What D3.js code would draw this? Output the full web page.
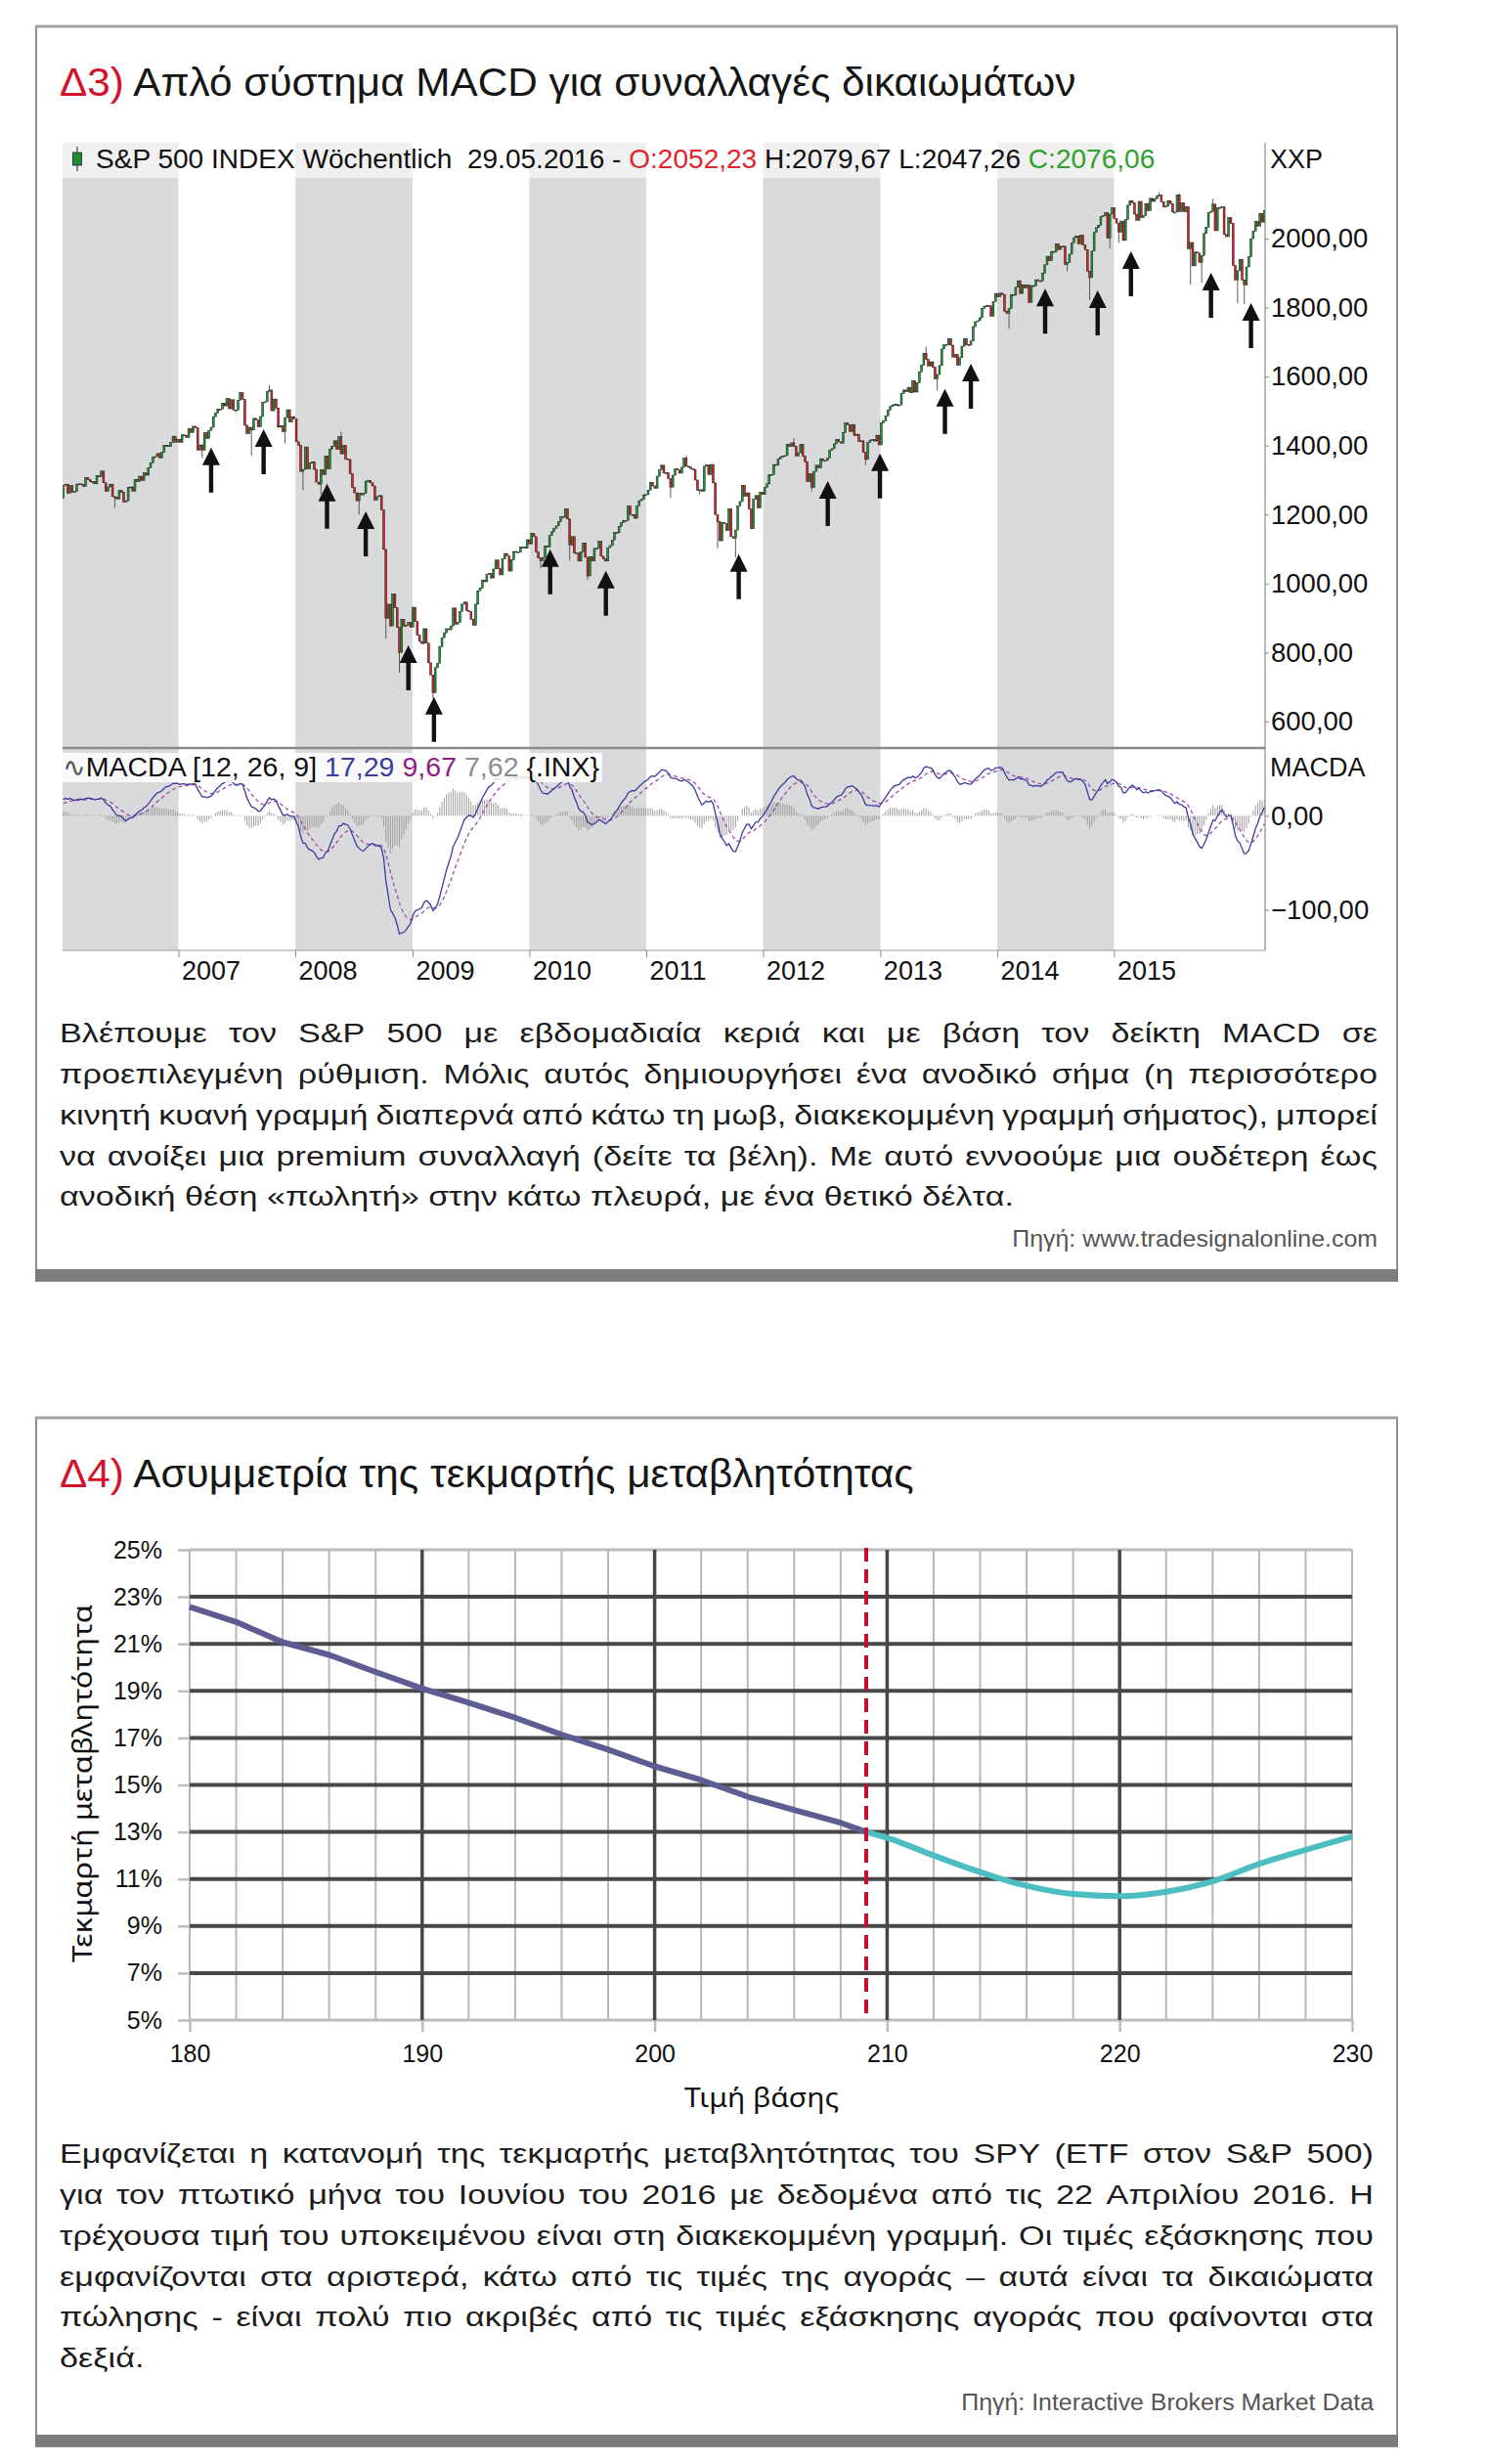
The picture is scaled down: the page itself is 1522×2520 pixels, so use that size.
<!DOCTYPE html>
<html><head><meta charset="utf-8">
<script src="https://cdn.jsdelivr.net/npm/d3@7"></script>
<style>
body{margin:0;background:#fff;}
svg{display:block;}
text{font-family:"Liberation Sans",Arial,sans-serif;}
</style></head><body>
<svg id="c" width="1522" height="2520"></svg>
<script>
// ---------------- DATA: Δ3 S&P 500 weekly closes (Friday), read/estimated ----------------
const close2005 = [1186,1184,1168,1171,1203,1205,1201,1211,1222,1200,1190,1172,1172,1182,1142,1152,1157,1172,1155,1190,1199,1197,1201,1216,1191,1211,1211,1227,1229,1234,1226,1230,1219,1205,1218,1241,1237,1215,1229,1196,1187,1179,1199,1220,1235,1248,1268,1265,1259,1267,1268,1248];
const close2006 = [1285,1288,1262,1284,1264,1267,1288,1289,1287,1282,1307,1302,1295,1295,1289,1312,1310,1326,1292,1267,1280,1288,1252,1251,1245,1270,1265,1236,1240,1279,1280,1267,1302,1295,1311,1299,1321,1314,1336,1350,1366,1368,1377,1364,1380,1401,1400,1397,1409,1427,1410,1418];
const close2007 = [1409,1431,1430,1423,1449,1438,1456,1451,1387,1402,1386,1437,1421,1444,1453,1484,1495,1506,1505,1523,1515,1536,1507,1533,1503,1503,1531,1553,1534,1459,1434,1453,1445,1479,1474,1454,1484,1525,1527,1557,1561,1501,1535,1509,1453,1458,1440,1481,1504,1468,1484,1478];
const close2008 = [1411,1401,1325,1331,1396,1332,1349,1353,1331,1294,1288,1330,1316,1370,1332,1390,1398,1414,1389,1426,1376,1400,1361,1360,1318,1278,1263,1240,1261,1257,1261,1297,1298,1292,1283,1242,1252,1255,1213,1099,899,940,877,969,930,873,800,896,876,879,887,873];
const close2009 = [931,890,850,832,826,869,827,770,735,683,756,768,816,843,857,869,866,877,929,882,887,919,940,946,921,918,896,879,940,979,987,1010,1005,1026,1029,1016,1042,1068,1044,1025,1071,1087,1080,1036,1069,1093,1091,1091,1106,1106,1102,1127];
const close2010 = [1115,1145,1136,1092,1074,1066,1075,1109,1105,1139,1150,1160,1167,1179,1194,1192,1217,1187,1111,1136,1088,1089,1065,1092,1117,1076,1022,1078,1065,1102,1102,1122,1079,1071,1065,1104,1110,1126,1148,1147,1166,1176,1183,1183,1225,1200,1200,1189,1225,1240,1244,1257,1258];
const close2011 = [1271,1293,1283,1276,1311,1329,1343,1320,1321,1304,1279,1314,1332,1329,1320,1337,1364,1340,1338,1333,1331,1300,1271,1272,1268,1340,1344,1316,1345,1292,1199,1179,1124,1177,1174,1154,1216,1136,1131,1155,1225,1238,1285,1253,1263,1216,1159,1244,1255,1219,1265,1258];
const close2012 = [1278,1289,1315,1316,1345,1343,1361,1366,1370,1371,1404,1397,1408,1398,1370,1379,1403,1369,1353,1295,1318,1278,1325,1343,1335,1362,1355,1357,1363,1386,1391,1405,1418,1411,1407,1438,1466,1460,1441,1461,1429,1433,1412,1414,1380,1360,1409,1416,1418,1413,1430,1402];
const close2013 = [1466,1472,1486,1503,1513,1518,1520,1516,1518,1551,1561,1556,1569,1553,1588,1555,1582,1614,1633,1667,1650,1631,1643,1627,1593,1606,1632,1680,1692,1692,1710,1691,1656,1664,1633,1655,1688,1710,1692,1691,1703,1745,1759,1762,1771,1798,1804,1806,1805,1775,1818,1841];
const close2014 = [1831,1842,1838,1790,1783,1797,1838,1836,1859,1878,1841,1866,1857,1865,1815,1864,1863,1881,1878,1877,1900,1924,1949,1936,1963,1961,1985,1968,1978,1978,1925,1931,1955,1988,2003,2008,1985,2010,1982,1968,1906,1887,1964,2018,2032,2039,2064,2067,2075,2002,2071,2089];
const close2015 = [2058,2045,2019,2051,1995,2055,2097,2110,2104,2071,2053,2108,2061,2067,2102,2081,2117,2108,2116,2123,2126,2107,2092,2094,2110,2102,2077,2077,2127,2079,2104,2078,2092,1971,1989,1921,1961,1958,1931,1951,2015,2033,2075,2079,2100,2023,2089,2090,2092,2012,2006,2061];
const close2016 = [2044,1922,1880,1907,1940,1880,1865,1918,1948,2000,2022,2050,2036,2073,2048,2081];
const firstWeek = "2005-01-07";
// visible wick extremes (week, price)
const lowWicks = [["2006-06-16",1219],["2007-03-16",1364],["2007-08-17",1371],["2007-11-30",1406],["2008-01-25",1271],["2008-03-21",1257],["2008-07-18",1200],["2008-10-10",840],["2008-11-21",741],["2009-03-06",667],["2010-02-05",1045],["2010-05-07",1066],["2010-07-02",1011],["2011-03-18",1249],["2011-06-17",1258],["2011-08-12",1102],["2011-10-07",1075],["2011-11-25",1158],["2012-06-01",1267],["2012-11-16",1343],["2013-06-28",1560],["2014-02-07",1738],["2014-04-18",1815],["2014-08-08",1905],["2014-10-17",1821],["2014-12-19",1972],["2015-01-16",1988],["2015-08-28",1867],["2015-10-02",1872],["2016-01-22",1812],["2016-02-12",1810]];
const highWicks = [["2007-10-12",1576],["2008-05-23",1440],["2011-05-06",1371],["2012-04-06",1422],["2013-05-24",1687],["2015-05-22",2135],["2015-07-24",2132],["2015-11-06",2116]];
// buy-signal arrows: date and price at arrow tip
const arrowDates = ["2007-04-13","2007-09-24","2008-04-09","2008-08-08","2008-12-19","2009-03-09","2010-03-07","2010-08-28","2011-10-17","2012-07-21","2012-12-31","2013-07-22","2013-10-11","2014-05-31","2014-11-11","2015-02-23","2015-10-31","2016-03-04"];
const arrowTips = [1394,1447,1289,1209,821,671,1099,1037,1085,1297,1377,1564,1637,1855,1850,1963,1901,1813];
const macdParams = [12,26,9];
const priceTicks = [600,800,1000,1200,1400,1600,1800,2000];
const macdTicks = [0,-100];
const yearTicks = [2007,2008,2009,2010,2011,2012,2013,2014,2015];
const shadedYears = [2006,2008,2010,2012,2014];

// ---------------- DATA: Δ4 implied volatility skew ----------------
const strikesPut = [180,182,184,186,188,190,192,194,196,198,200,202,204,206,208,209.1];
const ivPut = [22.57,21.93,21.07,20.53,19.8,19.1,18.5,17.86,17.14,16.5,15.79,15.21,14.5,13.93,13.39,13.0];
const strikesCall = [209.1,210,212,214,216,218,220,222,224,226,228,230];
const ivCall = [13.0,12.75,12.0,11.29,10.71,10.36,10.27,10.46,10.9,11.64,12.24,12.8];
const currentPrice = [209.1];
const ivTicks = [5,7,9,11,13,15,17,19,21,23,25];
const strikeTicks = [180,190,200,210,220,230];

// ---------------- TEXT ----------------
const title3 = ["Δ3)", " Απλό σύστημα MACD για συναλλαγές δικαιωμάτων"];
const title4 = ["Δ4)", " Ασυμμετρία της τεκμαρτής μεταβλητότητας"];
const para1 = [
 "Βλέπουμε τον S&P 500 με εβδομαδιαία κεριά και με βάση τον δείκτη MACD σε",
 "προεπιλεγμένη ρύθμιση. Μόλις αυτός δημιουργήσει ένα ανοδικό σήμα (η περισσότερο",
 "κινητή κυανή γραμμή διαπερνά από κάτω τη μωβ, διακεκομμένη γραμμή σήματος), μπορεί",
 "να ανοίξει μια premium συναλλαγή (δείτε τα βέλη). Με αυτό εννοούμε μια ουδέτερη έως",
 "ανοδική θέση «πωλητή» στην κάτω πλευρά, με ένα θετικό δέλτα."];
const para2 = [
 "Εμφανίζεται η κατανομή της τεκμαρτής μεταβλητότητας του SPY (ETF στον S&P 500)",
 "για τον πτωτικό μήνα του Ιουνίου του 2016 με δεδομένα από τις 22 Απριλίου 2016. Η",
 "τρέχουσα τιμή του υποκειμένου είναι στη διακεκομμένη γραμμή. Οι τιμές εξάσκησης που",
 "εμφανίζονται στα αριστερά, κάτω από τις τιμές της αγοράς – αυτά είναι τα δικαιώματα",
 "πώλησης - είναι πολύ πιο ακριβές από τις τιμές εξάσκησης αγοράς που φαίνονται στα",
 "δεξιά."];
const source1 = "Πηγή: www.tradesignalonline.com";
const source2 = "Πηγή: Interactive Brokers Market Data";

// ---------------- HELPERS ----------------
const svg = d3.select('#c');
const tmp = svg.append('text').attr('x',-9999).attr('y',-9999).style('white-space','pre');
function textW(str,size,fam){ tmp.attr('font-size',size).style('font-family',fam||null).text(str); return tmp.node().getComputedTextLength(); }
function fitText(g,x,y,parts,size,width,anchor,fam){
  const str=parts.map(p=>p[0]).join('');
  const sx=width/textW(str,size,fam);
  const t=g.append('text').attr('transform',`translate(${x},${y}) scale(${sx},1)`).attr('font-size',size).style('white-space','pre');
  if(fam) t.style('font-family',fam);
  if(anchor) t.attr('text-anchor',anchor);
  parts.forEach(p=>t.append('tspan').attr('fill',p[1]).text(p[0]));
  return t;
}
function justify(g,lines,x0,x1,baselines,size,sx){
  const W=(x1-x0)/sx;
  lines.forEach((ln,i)=>{
    const t=g.append('text').attr('font-size',size).attr('fill','#1c1c1c')
      .attr('transform',`translate(${x0},${baselines[i]}) scale(${sx},1)`);
    if(i===lines.length-1){ t.text(ln); return; }
    const words=ln.split(' ');
    const ws=words.map(w=>textW(w,size));
    const gap=(W-d3.sum(ws))/(words.length-1);
    let cx=0;
    words.forEach((w,j)=>{ t.append('tspan').attr('x',cx.toFixed(2)).text(w); cx+=ws[j]+gap; });
  });
}
const RED='#d3132b';
function frame(y0,y1){
  svg.append('rect').attr('x',37).attr('y',y0).attr('width',1392).attr('height',y1-y0)
    .attr('fill','#fff').attr('stroke','#8f8f8f').attr('stroke-width',2);
  svg.append('line').attr('x1',36).attr('x2',1430).attr('y1',y0).attr('y2',y0).attr('stroke','#a3a3a3').attr('stroke-width',3);
  svg.append('rect').attr('x',36).attr('y',y1-12).attr('width',1394).attr('height',12).attr('fill','#7b7c7e');
}
frame(27,1310);
frame(1450,2502);

// ---------------- Δ3 CHART ----------------
fitText(svg,61,98,[[title3[0],RED],[title3[1],'#161616']],41,1040);

const parseD=d3.timeParse('%Y-%m-%d');
const start=parseD(firstWeek);
const closes=[].concat(close2005,close2006,close2007,close2008,close2009,close2010,close2011,close2012,close2013,close2014,close2015,close2016);
function ema(arr,n){const k=2/(n+1);const o=[];arr.forEach((v,i)=>o.push(i?v*k+o[i-1]*(1-k):v));return o;}
const e1=ema(closes,macdParams[0]), e2=ema(closes,macdParams[1]);
const macd=closes.map((c,i)=>e1[i]-e2[i]);
const sig=ema(macd,macdParams[2]);
const weeks=closes.map((c,i)=>({date:d3.timeDay.offset(start,7*i),close:c,open:i?closes[i-1]:c,macd:macd[i],sig:sig[i],hist:macd[i]-sig[i]}));
const idxOf=s=>Math.round(d3.timeDay.count(start,parseD(s))/7);
lowWicks.forEach(([s,v])=>{const w=weeks[idxOf(s)]; if(w) w.low=v;});
highWicks.forEach(([s,v])=>{const w=weeks[idxOf(s)]; if(w) w.high=v;});

const x=d3.scaleTime().domain([new Date(2006,0,4),new Date(2016,3,17)]).range([64,1294]);
const yP=d3.scaleLinear().domain([523,2176]).range([765,182]);
const yM=d3.scaleLinear().domain([-143,72]).range([972,765]);
const vis=weeks.filter(w=>w.date>=x.domain()[0]&&w.date<=x.domain()[1]);

const c1=svg.append('g');
// shaded year bands
shadedYears.forEach(yr=>{
  const a=Math.max(x(new Date(yr,0,1)),64), b=x(new Date(yr+1,0,1));
  c1.append('rect').attr('x',a).attr('y',146).attr('width',b-a).attr('height',972-146).attr('fill','#d9dadb');
});
// header overlay
c1.append('rect').attr('x',64).attr('y',146).attr('width',1230).attr('height',36).attr('fill','#fff').attr('opacity',0.6);
// separator and bottom line
c1.append('line').attr('x1',64).attr('x2',1294).attr('y1',765).attr('y2',765).attr('stroke','#8a8a8a').attr('stroke-width',2.5);
c1.append('line').attr('x1',64).attr('x2',1294).attr('y1',972).attr('y2',972).attr('stroke','#9a9a9a').attr('stroke-width',1);
c1.append('line').attr('x1',1294).attr('x2',1294).attr('y1',146).attr('y2',972).attr('stroke','#8a8a8a').attr('stroke-width',1.2);

svg.append('clipPath').attr('id','cp').append('rect').attr('x',64).attr('y',182).attr('width',1230).attr('height',583);
svg.append('clipPath').attr('id','cm').append('rect').attr('x',64).attr('y',767).attr('width',1230).attr('height',205);

// candles
const cg=c1.append('g').attr('clip-path','url(#cp)');
vis.forEach(w=>{
  const lo=Math.min(w.open,w.close), hi=Math.max(w.open,w.close);
  const cx=x(w.date);
  if(w.low) cg.append('line').attr('x1',cx).attr('x2',cx).attr('y1',yP(w.low)).attr('y2',yP(lo)).attr('stroke','#4a4a4a').attr('stroke-width',0.9);
  if(w.high) cg.append('line').attr('x1',cx).attr('x2',cx).attr('y1',yP(w.high)).attr('y2',yP(hi)).attr('stroke','#4a4a4a').attr('stroke-width',0.9);
  const h=Math.max(1,yP(lo)-yP(hi));
  cg.append('rect').attr('x',cx-0.95).attr('y',yP(hi)).attr('width',1.9).attr('height',h)
    .attr('fill',w.close>=w.open?'#1c9a3a':'#dc2228').attr('stroke','#151515').attr('stroke-width',0.5);
});
// arrows
arrowDates.forEach((s,i)=>{
  const tx=x(parseD(s)), ty=yP(arrowTips[i]);
  c1.append('path').attr('d',`M${tx},${ty}L${tx+9},${ty+18}L${tx+2.2},${ty+18}L${tx+2.2},${ty+46}L${tx-2.2},${ty+46}L${tx-2.2},${ty+18}L${tx-9},${ty+18}Z`).attr('fill','#111');
});
// MACD
const mg=c1.append('g').attr('clip-path','url(#cm)');
vis.forEach(w=>{
  mg.append('line').attr('x1',x(w.date)).attr('x2',x(w.date)).attr('y1',yM(0)).attr('y2',yM(w.hist)).attr('stroke','#9d9d9d').attr('stroke-width',1);
});
mg.append('path').datum(vis).attr('fill','none').attr('stroke','#a24aa8').attr('stroke-width',1.3).attr('stroke-dasharray','4,3')
  .attr('d',d3.line().x(d=>x(d.date)).y(d=>yM(d.sig)));
mg.append('path').datum(vis).attr('fill','none').attr('stroke','#3b3c9e').attr('stroke-width',1.3)
  .attr('d',d3.line().x(d=>x(d.date)).y(d=>yM(d.macd)));
// header texts
c1.append('line').attr('x1',79).attr('x2',79).attr('y1',150).attr('y2',175).attr('stroke','#222').attr('stroke-width',1);
c1.append('rect').attr('x',74.5).attr('y',156).attr('width',9).attr('height',13).attr('fill','#1c8d30').attr('stroke','#222').attr('stroke-width',0.8);
fitText(c1,98,172,[["S&P 500 INDEX Wöchentlich  29.05.2016 - ",'#111'],["O:2052,23",'#e0262d'],[" H:2079,67 L:2047,26 ",'#111'],["C:2076,06",'#2fa12c']],28,1084);
c1.append('rect').attr('x',64).attr('y',770).attr('width',552).attr('height',30).attr('fill','#fff').attr('opacity',0.85);
fitText(c1,64,794,[["∿",'#555'],["MACDA [12, 26, 9] ",'#111'],["17,29",'#3b3c9e'],[" ",'#111'],["9,67",'#8e1f87'],[" ",'#111'],["7,62",'#8c8c8c'],[" {.INX}",'#111']],27,550);
c1.append('text').attr('x',1299).attr('y',172).attr('font-size',27).attr('fill','#111').text('XXP');
c1.append('text').attr('x',1299).attr('y',794).attr('font-size',27).attr('fill','#111').text('MACDA');

const fmt=d=>d3.format('.2f')(d).replace('.',',');
const ay=c1.append('g').attr('transform','translate(1294,0)').call(d3.axisRight(yP).tickValues(priceTicks).tickSize(4).tickPadding(2).tickFormat(fmt));
const am=c1.append('g').attr('transform','translate(1294,0)').call(d3.axisRight(yM).tickValues(macdTicks).tickSize(4).tickPadding(2).tickFormat(fmt));
[ay,am].forEach(a=>{a.select('.domain').remove();a.selectAll('line').attr('stroke','#8a8a8a');a.selectAll('text').attr('font-size',27.5).attr('fill','#111').style('font-family','"Liberation Sans",Arial,sans-serif');});
const ax=c1.append('g').attr('transform','translate(0,972)').call(d3.axisBottom(x).tickValues(yearTicks.map(y=>new Date(y,0,1))).tickSize(7).tickPadding(4).tickFormat(d3.timeFormat('%Y')));
ax.select('.domain').remove();
ax.selectAll('line').attr('stroke','#8a8a8a');
ax.selectAll('text').attr('text-anchor','start').attr('x',3).attr('font-size',27).attr('fill','#111').style('font-family','"Liberation Sans",Arial,sans-serif');

// paragraph 1
const lastW=textW(para1[para1.length-1],27);
const psx=976/lastW;
justify(svg,para1,61,1409,[1066,1108,1150,1192,1233],27,psx);
fitText(svg,1409,1275,[[source1,'#555']],23,374,'end');

// ---------------- Δ4 CHART ----------------
fitText(svg,61,1521,[[title4[0],RED],[title4[1],'#161616']],41,874);
const xs=d3.scaleLinear().domain([180,230]).range([194,1383]);
const ys=d3.scaleLinear().domain([5,25]).range([2066,1585]);
const g2=svg.append('g');
const minor=d3.range(180,231,2).filter(v=>!(v%10===0&&v>180&&v<230));
g2.selectAll('.vmin').data(minor).join('line').attr('x1',d=>xs(d)).attr('x2',d=>xs(d)).attr('y1',ys(25)).attr('y2',ys(5)).attr('stroke','#b7b7b7').attr('stroke-width',2);
g2.selectAll('.h').data(ivTicks).join('line').attr('x1',xs(180)).attr('x2',xs(230)).attr('y1',d=>ys(d)).attr('y2',d=>ys(d))
  .attr('stroke',d=>(d===5||d===25)?'#bcbcbc':'#474747').attr('stroke-width',d=>(d===5||d===25)?3:4);
g2.selectAll('.vmaj').data([190,200,210,220]).join('line').attr('x1',d=>xs(d)).attr('x2',d=>xs(d)).attr('y1',ys(25)).attr('y2',ys(5)).attr('stroke','#474747').attr('stroke-width',3.5);
const a2y=g2.append('g').attr('transform',`translate(${xs(180)},0)`).call(d3.axisLeft(ys).tickValues(ivTicks).tickSize(12).tickPadding(16).tickFormat(d=>d+'%'));
const a2x=g2.append('g').attr('transform',`translate(0,${ys(5)})`).call(d3.axisBottom(xs).tickValues(strikeTicks).tickSize(12).tickPadding(13));
[a2y,a2x].forEach(a=>{a.select('.domain').remove();a.selectAll('line').attr('stroke','#bcbcbc').attr('stroke-width',2.5);a.selectAll('text').attr('font-size',25).attr('fill','#111').style('font-family','"Liberation Sans",Arial,sans-serif');});
g2.append('path').datum(strikesPut.map((s,i)=>[s,ivPut[i]])).attr('fill','none').attr('stroke','#5d5d93').attr('stroke-width',6).attr('stroke-linejoin','round')
  .attr('d',d3.line().x(d=>xs(d[0])).y(d=>ys(d[1])));
g2.append('path').datum(strikesCall.map((s,i)=>[s,ivCall[i]])).attr('fill','none').attr('stroke','#4cbdc1').attr('stroke-width',6).attr('stroke-linejoin','round')
  .attr('d',d3.line().curve(d3.curveMonotoneX).x(d=>xs(d[0])).y(d=>ys(d[1])));
g2.selectAll('.cp').data(currentPrice).join('line').attr('x1',d=>xs(d)).attr('x2',d=>xs(d)).attr('y1',ys(25)-2).attr('y2',ys(5))
  .attr('stroke','#c40f2f').attr('stroke-width',4).attr('stroke-dasharray','14,8');
g2.append('text').attr('x',779).attr('y',2155).attr('text-anchor','middle').attr('font-size',28).attr('fill','#111')
  .style('font-family','"Noto Sans",sans-serif').attr('textLength',158).attr('lengthAdjust','spacingAndGlyphs').text('Τιμή βάσης');
g2.append('text').attr('transform','translate(94,1824) rotate(-90)').attr('text-anchor','middle').attr('font-size',28).attr('fill','#111')
  .style('font-family','"Noto Sans",sans-serif').attr('textLength',366).attr('lengthAdjust','spacingAndGlyphs').text('Τεκμαρτή μεταβλητότητα');

justify(svg,para2,61,1405,[2212,2254,2296,2338,2379,2421],27,psx);
fitText(svg,1405,2465,[[source2,'#555']],23,422,'end');
tmp.remove();
</script></body></html>
